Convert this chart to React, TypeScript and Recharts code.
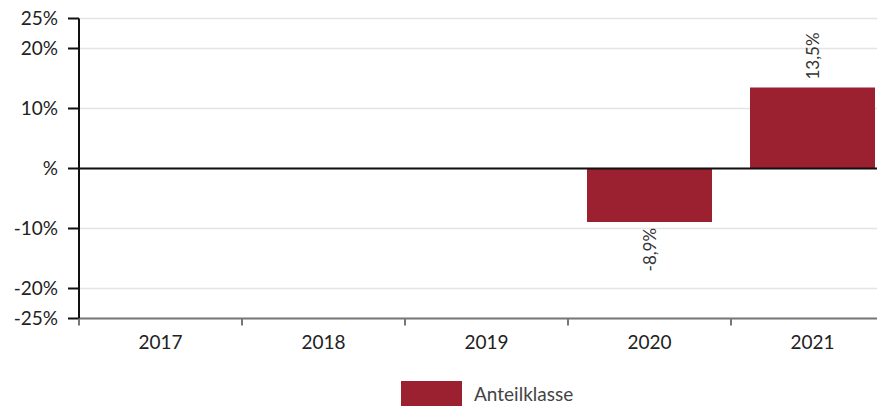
import React from "react";
import { BarChart, Bar, XAxis, YAxis, CartesianGrid, ReferenceLine, LabelList } from "recharts";

const years = ["2017", "2018", "2019", "2020", "2021"];
const anteilklasse: (number | null)[] = [null, null, null, -8.9, 13.5];
const yTicks = [-25, -20, -10, 0, 10, 20, 25];
const seriesName = "Anteilklasse";

const data = years.map((y, i) => ({ year: y, value: anteilklasse[i] }));

const FONT = "Lato, 'Open Sans', sans-serif";
const RED = "#9B2030";

const CHART_W = 886;
const CHART_H = 360;
const MARGIN = { top: 10.5, right: 0, bottom: 9.5, left: 0 };
const Y_W = 71;
const X_H = 40;
const PLOT_BOTTOM = CHART_H - MARGIN.bottom - X_H;
const BAND = (CHART_W - Y_W - MARGIN.left - MARGIN.right) / years.length;

const fmtPct = (v: number) => (v === 0 ? "%" : `${v}%`);
const fmtLabel = (v: number) => `${v.toFixed(1).replace(".", ",")}%`;

const BarLabel = (props: any) => {
  const { x, y, width, height, value } = props;
  if (value == null) return null;
  const cx = x + width / 2;
  const top = Math.min(y, y + height);
  const bottom = Math.max(y, y + height);
  const pos = value >= 0;
  const ty = pos ? top - 8 : bottom + 6;
  return (
    <text
      x={cx}
      y={ty}
      transform={`rotate(-90 ${cx} ${ty})`}
      textAnchor={pos ? "start" : "end"}
      dominantBaseline="central"
      fontSize={17}
      fill="#333"
      fontFamily={FONT}
    >
      {fmtLabel(value)}
    </text>
  );
};

const XTick = (props: any) => {
  const { x, payload } = props;
  const bx = x - BAND / 2;
  return (
    <g>
      <line x1={bx} y1={PLOT_BOTTOM} x2={bx} y2={PLOT_BOTTOM + 7} stroke="#777" strokeWidth={2} />
      <text x={x} y={PLOT_BOTTOM + 30} textAnchor="middle" fontSize={19} fill="#222" fontFamily={FONT}>
        {payload.value}
      </text>
    </g>
  );
};

export default function App() {
  return (
    <div style={{ position: "relative", width: CHART_W, height: 398 }}>
      <BarChart
        width={CHART_W}
        height={CHART_H}
        data={data}
        margin={MARGIN}
        barCategoryGap={19}
        style={{ fontFamily: FONT }}
      >
        <CartesianGrid horizontal vertical={false} stroke="#e4e4e4" strokeWidth={1.5} />
        <XAxis
          dataKey="year"
          height={X_H}
          stroke="#777"
          strokeWidth={2}
          tickLine={false}
          tick={<XTick />}
          interval={0}
        />
        <YAxis
          type="number"
          domain={[-25, 25]}
          ticks={yTicks}
          interval={0}
          width={Y_W}
          stroke="#111"
          strokeWidth={2}
          tickSize={11}
          tickMargin={10}
          tickFormatter={fmtPct}
          tick={{ fontSize: 19, fill: "#222", fontFamily: FONT }}
        />
        <ReferenceLine y={0} stroke="#111" strokeWidth={2} />
        <Bar dataKey="value" name={seriesName} fill={RED} isAnimationActive={false}>
          <LabelList dataKey="value" content={BarLabel} />
        </Bar>
      </BarChart>
      <div
        style={{
          position: "absolute",
          top: 373,
          left: 393,
          display: "flex",
          alignItems: "center",
          fontFamily: FONT,
        }}
      >
        <div style={{ width: 61, height: 25, background: RED }} />
        <span style={{ marginLeft: 12, fontSize: 19, color: "#444" }}>{seriesName}</span>
      </div>
    </div>
  );
}
